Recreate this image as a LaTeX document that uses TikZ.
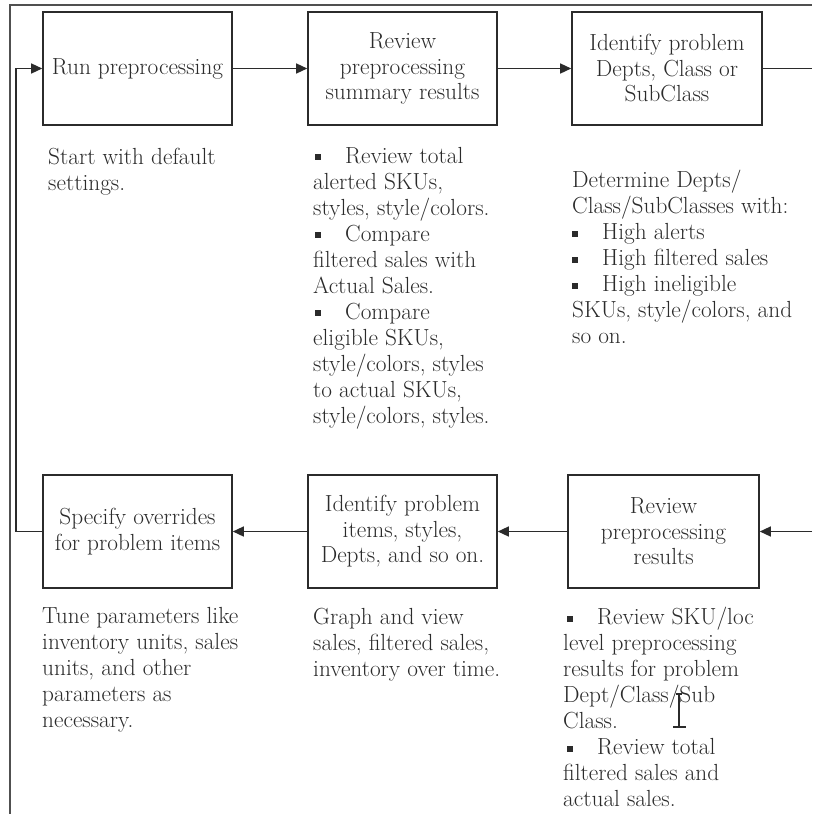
\documentclass[tikz,border=0pt]{standalone}
\usetikzlibrary{arrows.meta}
\definecolor{ink}{HTML}{2B2B2B}
\definecolor{framec}{HTML}{505050}
\newcommand\bodyfont{\fontsize{23.3}{26}\selectfont}
\newcommand\boxfont{\fontsize{23.3}{25.5}\selectfont}
\newcommand\blt[1][0pt]{\hspace*{#1}\rule[3pt]{6pt}{6pt}\hspace*{24pt}}
\newcommand\topstrut{\rule{0pt}{17pt}}
\begin{document}
\begin{tikzpicture}[x=1pt,y=-1pt,
  box/.style={draw=ink, line width=1.6pt, minimum height=113pt, inner sep=0pt, align=center, font=\boxfont, text=ink},
  txt/.style={anchor=north west, inner sep=0pt, align=left, font=\bodyfont, text=ink},
  conn/.style={draw=ink, line width=1.4pt},
  arr/.style={conn, -{Triangle[length=11pt,width=10pt]}},
]
\useasboundingbox (0,0) rectangle (812,814);
\fill[white] (0,0) rectangle (812,814);
% frame
\draw[framec, line width=1.5pt] (10,814) -- (10,5) -- (812,5);
% boxes
\node[box, minimum width=189pt] (b1) at (137.5,68.5) {Run preprocessing};
\node[box, minimum width=189pt] (b2) at (402.5,68.5) {Review\\preprocessing\\summary results};
\node[box, minimum width=190pt] (b3) at (667,68.5) {Identify problem\\Depts, Class or\\SubClass};
\node[box, minimum width=189pt] (b4) at (137.5,531.5) {Specify overrides\\for problem items};
\node[box, minimum width=189pt] (b5) at (402.5,531.5) {Identify problem\\items, styles,\\Depts, and so on.};
\node[box, minimum width=191pt] (b6) at (663.5,531.5) {Review\\preprocessing\\results};
% connectors
\coordinate (r1) at (812,68.5);
\coordinate (r2) at (812,531.5);
\coordinate (lp) at (16,300);
\draw[arr] (b1.east) -- (b2.west);
\draw[arr] (b2.east) -- (b3.west);
\draw[conn] (b3.east) -- (r1);
\draw[arr] (r2) -- (b6.east);
\draw[arr] (b6.west) -- (b5.east);
\draw[arr] (b5.west) -- (b4.east);
\draw[arr] (b4.west) -- (b4.west -| lp) -- (b1.west -| lp) -- (b1.west);
% texts (y = first baseline - 17)
\node[txt] (t1) at (48,147) {\topstrut Start with default\\settings.};
\node[txt] (t2) at (313,146) {\topstrut\blt[2pt]Review total\\alerted SKUs,\\styles, style/colors.\\\blt[2pt]Compare\\filtered sales with\\Actual Sales.\\\blt[2pt]Compare\\eligible SKUs,\\style/colors, styles\\to actual SKUs,\\style/colors, styles.};
\node[txt] (t3) at (572,170) {\topstrut Determine Depts/\\Class/SubClasses with:\\\blt High alerts\\\blt High filtered sales\\\blt High ineligible\\SKUs, style/colors, and\\so on.};
\node[txt] (t4) at (42,606) {\topstrut Tune parameters like\\inventory units, sales\\units, and other\\parameters as\\necessary.};
\node[txt] (t5) at (313,607) {\topstrut Graph and view\\sales, filtered sales,\\inventory over time.};
\node[txt] (t6) at (563,607) {\topstrut\blt[4pt]Review SKU/loc\\level preprocessing\\results for problem\\Dept/Class/Sub\\Class.\\\blt[4pt]Review total\\filtered sales and\\actual sales.};
% text cursor
\draw[ink, line width=1.2pt] (679,694) -- (679,727);
\draw[ink, line width=1.2pt] (673,727) -- (686,727);
\draw[ink, line width=1.2pt] (676,694) -- (682,694);
\end{tikzpicture}
\end{document}
